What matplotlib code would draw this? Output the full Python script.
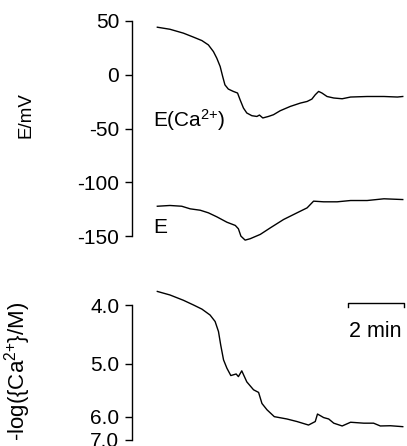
import numpy as np
import matplotlib
matplotlib.use("Agg")
import matplotlib.pyplot as plt

plt.rcParams['font.family'] = ['Liberation Sans', 'DejaVu Sans']
plt.rcParams['mathtext.fontset'] = 'custom'
plt.rcParams['mathtext.rm'] = 'Liberation Sans'
plt.rcParams['mathtext.default'] = 'regular'

# ---- data (time in min) ----
t_eca = [0.00, 0.45, 0.93, 1.29, 1.59, 1.82, 2.00, 2.12, 2.24, 2.33, 2.41, 2.53, 2.71, 2.86,
         2.95, 3.07, 3.19, 3.37, 3.55, 3.64, 3.76, 3.96, 4.14, 4.38, 4.74, 5.10, 5.34, 5.51,
         5.63, 5.75, 5.87, 6.05, 6.29, 6.59, 6.89, 7.48, 8.08, 8.56, 8.75]
e_ca = [43.9, 42.0, 38.4, 34.7, 31.5, 27.5, 21.3, 15.2, 7.5, -1.8, -9.5, -13.4, -15.6, -17.1,
        -23.3, -31.0, -35.6, -38.1, -38.8, -37.5, -40.2, -38.8, -37.2, -33.5, -29.5, -26.4, -24.9, -22.7,
        -18.7, -15.6, -17.1, -20.3, -21.7, -22.4, -20.8, -20.3, -20.3, -20.8, -20.3]

t_e = [0.00, 0.45, 0.87, 1.17, 1.53, 1.82, 2.12, 2.48, 2.78, 2.89, 2.98, 3.13, 3.31, 3.67,
       4.03, 4.50, 4.98, 5.34, 5.57, 5.93, 6.41, 6.89, 7.48, 8.08, 8.75]
e_ref = [-122.0, -121.3, -122.0, -124.4, -125.7, -128.1, -131.8, -136.8, -139.8, -142.9, -149.7,
         -153.4, -152.1, -148.1, -142.0, -134.3, -128.1, -123.5, -117.3, -117.9, -117.9, -116.7,
         -116.7, -115.1, -115.8]

t_pca = [0.00, 0.45, 0.93, 1.29, 1.59, 1.88, 2.06, 2.18, 2.26, 2.36, 2.48, 2.62, 2.81, 2.89,
         3.01, 3.19, 3.43, 3.61, 3.73, 3.91, 4.17, 4.62, 4.98, 5.39, 5.63, 5.71, 5.93, 6.11,
         6.29, 6.59, 6.89, 7.36, 7.71, 7.95, 8.31, 8.75]
pca = [3.77, 3.83, 3.92, 4.00, 4.07, 4.17, 4.28, 4.45, 4.68, 4.93, 5.08, 5.22, 5.19, 5.24,
       5.13, 5.34, 5.49, 5.54, 5.75, 5.87, 6.00, 6.10, 6.21, 6.36, 6.21, 5.95, 6.04, 6.10,
       6.28, 6.40, 6.24, 6.28, 6.28, 6.40, 6.39, 6.43]

mv_ticks = [50, 0, -50, -100, -150]
pca_ticks = [4.0, 5.0, 6.0, 7.0]
pca_tick_labels = ["4.0", "5.0", "6.0", "7.0"]
# non-linear calibration of the pCa axis (relative axis units)
pca_cal = [4.0, 5.0, 6.0, 7.0]
pca_cal_pos = [0.0, 59.0, 111.7, 135.0]
scale_bar_min = 2.0

W, H = 407, 446
fig = plt.figure(figsize=(W / 100, H / 100), dpi=100)


def fr(x0, y0, x1, y1):
    return [x0 / W, 1 - y1 / H, (x1 - x0) / W, (y1 - y0) / H]


FS = 15
xlim = (-0.914, 8.83)

# ---- top panel ----
ax1 = fig.add_axes(fr(131.7, 12, 405, 248))
ax1.plot(t_eca, e_ca, color='black', lw=1.0, clip_on=False)
ax1.plot(t_e, e_ref, color='black', lw=1.0, clip_on=False)
ax1.set_xlim(*xlim)
ax1.set_ylim(-160.7, 58.0)
ax1.set_yticks(mv_ticks)
ax1.set_yticklabels([str(v) for v in mv_ticks])
ax1.spines['left'].set_bounds(-150, 50)

ax1.text(-0.16, -48.3, r"E(Ca$^{2{+}}$)", fontsize=FS, ha='left', va='baseline')
ax1.text(-0.16, -147.1, "E", fontsize=FS, ha='left', va='baseline')

# ---- bottom panel ----
def _pw(x, xp, fp):
    x = np.asarray(x, dtype=float)
    y = np.interp(x, xp, fp)
    lo = x < xp[0]
    hi = x > xp[-1]
    y = np.where(lo, fp[0] + (x - xp[0]) * (fp[1] - fp[0]) / (xp[1] - xp[0]), y)
    y = np.where(hi, fp[-1] + (x - xp[-1]) * (fp[-1] - fp[-2]) / (xp[-1] - xp[-2]), y)
    return y


fwd = lambda v: _pw(v, pca_cal, pca_cal_pos)
inv = lambda p: _pw(p, pca_cal_pos, pca_cal)

ax2 = fig.add_axes(fr(131.7, 282, 405, 446))
ax2.set_yscale('function', functions=(fwd, inv))
ax2.plot(t_pca, pca, color='black', lw=1.0, clip_on=False)
ax2.set_xlim(*xlim)
ax2.set_ylim(7.26, 3.61)
ax2.set_yticks(pca_ticks)
ax2.set_yticklabels(pca_tick_labels)
ax2.minorticks_off()
ax2.spines['left'].set_bounds(4.0, 7.0)

# scale bar (2 min)
x_end = 8.78
x_start = x_end - scale_bar_min
ax2.plot([x_start, x_start, x_end, x_end], [4.03, 3.96, 3.96, 4.03], color='black', lw=1.0,
         clip_on=False)
ax2.text((x_start + x_end) / 2, 4.55, "2 min", fontsize=15.5, ha='center', va='baseline')

for ax in (ax1, ax2):
    for s in ('top', 'right', 'bottom'):
        ax.spines[s].set_visible(False)
    ax.spines['left'].set_linewidth(1.0)
    ax.set_xticks([])
    ax.tick_params(axis='y', direction='out', length=5, width=1.0, pad=4, labelsize=FS)
    ax.patch.set_visible(False)

fig.text(26 / W, 1 - 115 / H, "E/mV", rotation=90, fontsize=13.5, ha='center', va='center')
fig.text(18 / W, 1 - 371 / H, r"-log({Ca$^{2{+}}$}/M)", rotation=90, fontsize=16,
         ha='center', va='center')

fig.savefig("out.png", dpi=100)
